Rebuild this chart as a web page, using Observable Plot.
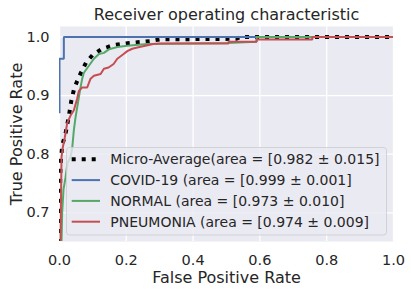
<!DOCTYPE html>
<html><head><meta charset="utf-8">
<script src="https://cdn.jsdelivr.net/npm/d3@7"></script>
<script src="https://cdn.jsdelivr.net/npm/@observablehq/plot@0.6"></script>
<style>body{margin:0;background:#fff} svg{font-family:"DejaVu Sans"}</style>
</head><body><div id="chart"></div>
<script>
const title = "Receiver operating characteristic";
const xLabel = "False Positive Rate";
const yLabel = "True Positive Rate";
const xTicks = [0, 0.2, 0.4, 0.6, 0.8, 1.0];
const yTicks = [0.7, 0.8, 0.9, 1.0];
const seriesNames = [
  "Micro-Average(area = [0.982 ± 0.015]",
  "COVID-19 (area = [0.999 ± 0.001]",
  "NORMAL (area = [0.973 ± 0.010]",
  "PNEUMONIA (area = [0.974 ± 0.009]"
];
const seriesColors = ["#000000", "#4C72B0", "#55A868", "#C44E52"];

const microFpr = [0, 0.000, 0.003, 0.008, 0.018, 0.028, 0.035, 0.043, 0.053, 0.065, 0.080, 0.100, 0.125, 0.160, 0.210, 0.270, 0.300, 0.530, 0.540, 1];
const microTpr = [0, 0.700, 0.780, 0.815, 0.835, 0.865, 0.890, 0.910, 0.925, 0.940, 0.957, 0.970, 0.979, 0.986, 0.990, 0.993, 0.996, 0.997, 1.000, 1];

const covidFpr = [0, 0, 0.013, 0.013, 1];
const covidTpr = [0.870, 0.963, 0.963, 1.000, 1];

const normalFpr = [0, 0.004, 0.008, 0.012, 0.018, 0.024, 0.033, 0.038, 0.043, 0.048, 0.053, 0.058, 0.063, 0.068, 0.073, 0.088, 0.103, 0.118, 0.133, 0.148, 0.173, 0.203, 0.263, 0.503, 0.590, 0.590, 1];
const normalTpr = [0, 0.600, 0.700, 0.740, 0.760, 0.785, 0.795, 0.810, 0.841, 0.863, 0.880, 0.897, 0.914, 0.929, 0.939, 0.951, 0.963, 0.971, 0.973, 0.979, 0.983, 0.985, 0.988, 0.990, 0.992, 1.000, 1];

const pneumoFpr = [0, 0.002, 0.004, 0.006, 0.010, 0.016, 0.023, 0.033, 0.043, 0.053, 0.058, 0.068, 0.083, 0.093, 0.103, 0.123, 0.133, 0.147, 0.162, 0.173, 0.192, 0.203, 0.218, 0.233, 0.257, 0.281, 0.302, 0.506, 0.506, 0.590, 0.590, 0.757, 0.757, 1];
const pneumoTpr = [0, 0.600, 0.700, 0.795, 0.812, 0.829, 0.853, 0.866, 0.875, 0.895, 0.908, 0.914, 0.914, 0.929, 0.934, 0.937, 0.946, 0.948, 0.954, 0.963, 0.971, 0.976, 0.980, 0.982, 0.985, 0.988, 0.989, 0.989, 0.992, 0.992, 0.996, 0.996, 1.000, 1];

const toRows = (fpr, tpr) => fpr.map((f, i) => ({fpr: f, tpr: tpr[i]}));
const series = [
  {name: seriesNames[0], color: seriesColors[0], width: 4, dash: "4,6", rows: toRows(microFpr, microTpr)},
  {name: seriesNames[1], color: seriesColors[1], width: 2, dash: null, rows: toRows(covidFpr, covidTpr)},
  {name: seriesNames[2], color: seriesColors[2], width: 2, dash: null, rows: toRows(normalFpr, normalTpr)},
  {name: seriesNames[3], color: seriesColors[3], width: 2, dash: null, rows: toRows(pneumoFpr, pneumoTpr)}
];

const fmt = d3.format(".1f");
const plot = Plot.plot({
  width: 411, height: 292,
  marginLeft: 59, marginRight: 18, marginTop: 26, marginBottom: 51,
  style: {fontFamily: "DejaVu Sans", color: "#262626", background: "white", overflow: "visible"},
  x: {domain: [0, 1]},
  y: {domain: [0.651, 1.018]},
  marks: [
    Plot.frame({fill: "#EAEAF2", stroke: "none"}),
    Plot.gridX({ticks: xTicks, stroke: "white", strokeOpacity: 1, strokeWidth: 1.3}),
    Plot.gridY({ticks: yTicks, stroke: "white", strokeOpacity: 1, strokeWidth: 1.3}),
    Plot.axisX({ticks: xTicks, tickSize: 0, tickPadding: 13, tickFormat: fmt, fontSize: 14.5, label: null}),
    Plot.axisY({ticks: yTicks, tickSize: 0, tickPadding: 10, tickFormat: fmt, fontSize: 14.5, label: null}),
    ...series.map(s => Plot.line(s.rows, {
      x: "fpr", y: "tpr", stroke: s.color, strokeWidth: s.width,
      strokeDasharray: s.dash, strokeLinecap: "butt", strokeLinejoin: "miter", clip: true
    })),
    Plot.text([title], {text: d => d, frameAnchor: "top", lineAnchor: "bottom", dy: -6.5, fontSize: 16, fill: "#262626"}),
    Plot.text([xLabel], {text: d => d, frameAnchor: "bottom", lineAnchor: "bottom", dy: 41, fontSize: 16, fill: "#262626"}),
    Plot.text([yLabel], {text: d => d, frameAnchor: "left", textAnchor: "middle", lineAnchor: "bottom", rotate: -90, dx: -37.3, fontSize: 16, fill: "#262626"})
  ]
});
document.getElementById("chart").appendChild(plot);

// legend (lower right, matplotlib style)
const svg = d3.select(plot);
const lg = svg.append("g").attr("text-anchor", "start");
lg.append("rect")
  .attr("x", 66.5).attr("y", 147.5).attr("width", 320).attr("height", 87.5).attr("rx", 3)
  .attr("fill", "#EAEAF2").attr("fill-opacity", 0.8)
  .attr("stroke", "#cccccc").attr("stroke-opacity", 0.8).attr("stroke-width", 1);
series.forEach((s, i) => {
  const cy = 159.3 + i * 20.8;
  lg.append("line").attr("x1", 71.7).attr("x2", 100).attr("y1", cy).attr("y2", cy)
    .attr("stroke", s.color).attr("stroke-width", s.width)
    .attr("stroke-dasharray", s.dash).attr("stroke-linecap", "butt");
  lg.append("text").attr("x", 110.3).attr("y", cy).attr("dy", "0.35em")
    .attr("text-anchor", "start")
    .attr("font-size", 14).attr("fill", "#262626").text(s.name);
});
</script>
</body></html>
